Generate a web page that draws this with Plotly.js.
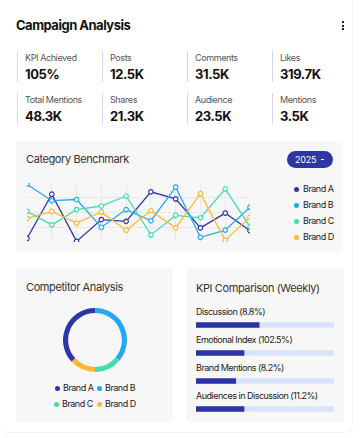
<!DOCTYPE html>
<html>
<head>
<meta charset="utf-8">
<script src="https://cdn.plot.ly/plotly-3.0.1.min.js"></script>
<style>
  html, body { margin: 0; padding: 0; background: #ffffff; width: 361px; height: 438px; overflow: hidden; font-family: Inter, "Noto Sans", sans-serif; color: #111; }
  .abs { position: absolute; }
  .card { position: absolute; left: 0px; top: 0px; width: 352px; height: 432px; border-right: 1px solid #f3f3f5; border-bottom: 1px solid #f3f3f5; border-radius: 0 0 8px 8px; }
  .h1 { left: 16px; top: 17px; font-size: 13px; font-weight: 700; letter-spacing: -0.5px; color: #111; }
  .kebab { left: 342px; top: 21px; width: 3px; }
  .kebab div { width: 2px; height: 2px; background: #222; margin-bottom: 1.5px; }
  .cell { position: absolute; border-left: 1px solid #d8d4ee; height: 31px; width: 84px; }
  .cell .lab { position: absolute; left: 7px; top: 1px; font-size: 9px; color: #555; white-space: nowrap; letter-spacing: -0.4px; }
  .cell .val { position: absolute; left: 7px; top: 15px; font-size: 13px; font-weight: 700; color: #111; white-space: nowrap; letter-spacing: -0.4px; }
  .panel { position: absolute; background: #f7f7f8; border-radius: 4px; }
  .ptitle { position: absolute; font-size: 11px; color: #333; white-space: nowrap; letter-spacing: -0.4px; }
  .btn { left: 287px; top: 151px; width: 46px; height: 17px; border-radius: 9px; background: #2f35a9; color: #fff; font-size: 9px; line-height: 17px; text-align: left; }
  .btn span { position: absolute; left: 8px; letter-spacing: -0.2px; }
  .btn .car { left: 34px; top: 7.5px; width: 3px; height: 1.5px; background: #fff; }
  .lg { position: absolute; font-size: 9px; color: #222; white-space: nowrap; letter-spacing: -0.5px; line-height: 12px; }
  .dot { position: absolute; width: 5px; height: 5px; border-radius: 50%; }
  .kl { position: absolute; left: 196px; font-size: 9px; color: #222; white-space: nowrap; letter-spacing: -0.5px; line-height: 12px; }
</style>
</head>
<body>
<div class="card"></div>
<div class="abs h1">Campaign Analysis</div>
<div class="abs kebab"><div></div><div></div><div></div></div>
<div id="kpis"></div>

<div class="panel" style="left:16px; top:141px; width:327px; height:111px;"></div>
<div class="ptitle" style="left:26px; top:152px;">Category Benchmark</div>
<div class="abs btn"><span>2025</span><span class="car"></span></div>
<div id="line" class="abs" style="left:16px; top:175px; width:240px; height:75px;"></div>
<div id="lineLegend"></div>

<div class="panel" style="left:16px; top:268px; width:157px; height:154px;"></div>
<div class="ptitle" style="left:26px; top:280px;">Competitor Analysis</div>
<div id="pie" class="abs" style="left:63px; top:308px; width:64px; height:64px;"></div>
<div id="pieLegend"></div>

<div class="panel" style="left:186px; top:268px; width:158px; height:154px;"></div>
<div class="ptitle" style="left:196px; top:281px;">KPI Comparison (Weekly)</div>
<div id="kpiLabels"></div>
<div id="bars" class="abs" style="left:196px; top:318px; width:138px; height:98px;"></div>

<script>
// ---------- data ----------
var statLabels = ["KPI Achieved", "Posts", "Comments", "Likes", "Total Mentions", "Shares", "Audience", "Mentions"];
var statValues = ["105%", "12.5K", "31.5K", "319.7K", "48.3K", "21.3K", "23.5K", "3.5K"];

var brands = ["Brand A", "Brand B", "Brand C", "Brand D"];
var brandColors = ["#2f35a9", "#25a8f2", "#45dbb0", "#fdb833"];
var periods = [1, 2, 3, 4, 5, 6, 7, 8, 9, 10];
var brandA = [6, 81, 1, 38, 35, 85, 73, 24, 49, 19];
var brandB = [98, 70, 72, 25, 55, 36, 93, 8, 20, 59];
var brandC = [52, 29, 55, 61, 78, 12, 45, 41, 90, 26];
var brandD = [40, 52, 32, 51, 20, 53, 24, 82, 3, 42];

var shareValues = [37, 36, 14, 13];

var kpiNames = ["Discussion (8.8%)", "Emotional Index (102.5%)", "Brand Mentions (8.2%)", "Audiences in Discussion (11.2%)"];
var kpiFill = [46, 35, 29, 35];
var kpiTrack = [100, 100, 100, 100];

// ---------- stat grid ----------
var kp = document.getElementById('kpis');
var colX = [17, 102, 187, 272];
var rowY = [51, 93];
statLabels.forEach(function (l, i) {
  var c = document.createElement('div');
  c.className = 'cell';
  c.style.left = colX[i % 4] + 'px';
  c.style.top = rowY[Math.floor(i / 4)] + 'px';
  c.innerHTML = '<div class="lab">' + l + '</div><div class="val">' + statValues[i] + '</div>';
  kp.appendChild(c);
});

// ---------- line chart ----------
var series = [brandA, brandB, brandC, brandD];
var lineTraces = series.map(function (s, i) {
  return {
    type: 'scatter', mode: 'lines+markers', x: periods, y: s, name: brands[i],
    line: { color: brandColors[i], width: 1.3 },
    marker: { symbol: 'circle', size: 4.5, color: '#ffffff', line: { color: brandColors[i], width: 1.2 } },
    hoverinfo: 'none', showlegend: false
  };
});
Plotly.newPlot('line', lineTraces, {
  width: 240, height: 75,
  margin: { l: 11, r: 6, t: 8, b: 8, pad: 0 },
  paper_bgcolor: 'rgba(0,0,0,0)', plot_bgcolor: 'rgba(0,0,0,0)',
  xaxis: { range: [1, 10], dtick: 1, tick0: 1, showgrid: true, gridcolor: '#e9e9ec', gridwidth: 1, zeroline: false, showticklabels: false, ticks: '', showline: false },
  yaxis: { range: [0, 100], dtick: 25, tick0: 0, showgrid: true, gridcolor: '#e9e9ec', gridwidth: 1, zeroline: false, showticklabels: false, ticks: '', showline: false },
  showlegend: false
}, { staticPlot: true });

var ll = document.getElementById('lineLegend');
brands.forEach(function (b, i) {
  var y = 189 + i * 16;
  ll.innerHTML += '<div class="dot" style="left:294px; top:' + (y - 2.5) + 'px; background:' + brandColors[i] + '"></div>' +
    '<div class="lg" style="left:303px; top:' + (y - 6) + 'px;">' + b + '</div>';
});

// ---------- donut ----------
Plotly.newPlot('pie', [{
  type: 'pie', labels: brands, values: shareValues, sort: false,
  direction: 'clockwise', rotation: -133, hole: 0.84,
  marker: { colors: brandColors, line: { width: 0 } },
  textinfo: 'none', hoverinfo: 'none', showlegend: false
}], {
  width: 64, height: 64, margin: { l: 0, r: 0, t: 0, b: 0 },
  paper_bgcolor: 'rgba(0,0,0,0)', showlegend: false
}, { staticPlot: true });

var pl = document.getElementById('pieLegend');
var pPos = [[57, 388], [99, 388], [56, 404], [99, 404]];
brands.forEach(function (b, i) {
  var p = pPos[i];
  pl.innerHTML += '<div class="dot" style="left:' + (p[0] - 2.5) + 'px; top:' + (p[1] - 2.5) + 'px; background:' + brandColors[i] + '"></div>' +
    '<div class="lg" style="left:' + (p[0] + 6) + 'px; top:' + (p[1] - 6) + 'px;">' + b + '</div>';
});

// ---------- KPI bars ----------
var kl = document.getElementById('kpiLabels');
kpiNames.forEach(function (n, i) {
  kl.innerHTML += '<div class="kl" style="top:' + (312 + i * 28 - 6) + 'px;">' + n + '</div>';
});
var idx = [0, 1, 2, 3];
Plotly.newPlot('bars', [
  { type: 'bar', orientation: 'h', y: idx, x: kpiTrack, width: 0.2, marker: { color: '#dae3fd' }, hoverinfo: 'none' },
  { type: 'bar', orientation: 'h', y: idx, x: kpiFill, width: 0.2, marker: { color: '#2c33a5' }, hoverinfo: 'none' }
], {
  width: 138, height: 98, margin: { l: 0, r: 0, t: 0, b: 0 },
  barmode: 'overlay',
  paper_bgcolor: 'rgba(0,0,0,0)', plot_bgcolor: 'rgba(0,0,0,0)',
  xaxis: { range: [0, 100], visible: false, fixedrange: true },
  yaxis: { range: [3.25, -0.25], visible: false, fixedrange: true },
  showlegend: false
}, { staticPlot: true });
</script>
</body>
</html>
